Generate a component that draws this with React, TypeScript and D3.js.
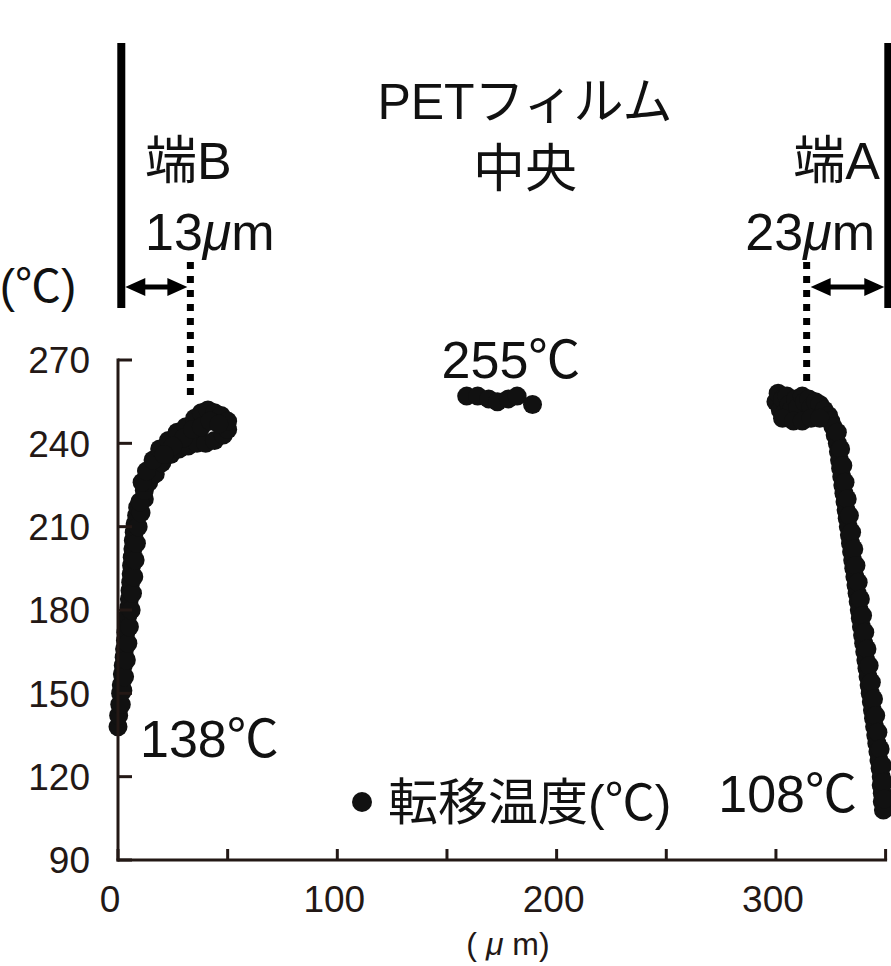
import React, { useEffect, useRef } from "react";
import * as d3 from "d3";

// 端B側 (左) の測定点 [位置 μm, 転移温度 ℃]
const edgeBPoints: [number, number][] = [
  [0, 138], [0.3, 142], [0.8, 146], [1.2, 150], [1.5, 153], [2, 157], [2.4, 160],
  [2.8, 163], [3, 166], [3.4, 169], [3.6, 172], [4, 175], [4.5, 178], [5, 181],
  [5.2, 184], [5.5, 187], [5.8, 190], [6, 193], [6.2, 196], [6.5, 199], [6.8, 202],
  [7, 205], [7.4, 208], [7.8, 211], [8.5, 214], [9, 217],
  [1.5, 146], [2.2, 151], [3, 156], [3.8, 162], [4.5, 168], [5.2, 174], [6, 180],
  [6.6, 186], [7.2, 192], [7.8, 198], [8.4, 204], [9.2, 210], [10.5, 215], [12, 220],
  [10, 219], [12, 223], [14, 226], [17, 229], [20, 233], [24, 236], [28, 238],
  [32, 239], [36, 240], [40, 240], [44, 241], [48, 243], [50, 245],
  [11, 226], [13, 230], [16, 234], [19, 238], [23, 241], [27, 244], [31, 246],
  [35, 249], [38, 251], [41, 252], [44, 251], [47, 250], [50, 248],
  [30, 242], [34, 245], [38, 246], [42, 248], [46, 247], [25, 239], [21, 236],
];

// 中央の測定点
const centerPoints: [number, number][] = [
  [159, 257], [164, 257], [169, 256], [173, 255], [178, 256], [182, 257], [189, 254],
];

// 端A側 (右) の測定点
const edgeAPoints: [number, number][] = [
  [300, 255], [301, 258], [302, 252], [303, 256], [304, 251], [305, 257], [306, 254],
  [307, 252], [309, 256], [310, 253], [312, 257], [313, 255], [315, 256], [316, 253],
  [318, 255], [320, 254], [322, 252], [324, 250], [325, 248], [326, 246], [327, 243],
  [303, 249], [308, 248], [312, 248], [316, 249], [320, 249],
  [328, 240], [328.5, 237], [329, 234], [329.5, 231], [330, 228], [330.5, 225],
  [331, 222], [331.5, 219], [332, 216], [332.5, 213], [333, 210], [333.5, 207],
  [334, 204], [334.5, 201], [335, 198], [335.5, 195], [336, 192], [336.5, 189],
  [337, 186], [337.5, 183], [338, 180], [338.5, 177], [339, 174], [339.5, 171],
  [340, 168], [340.5, 165], [341, 162], [341.5, 159], [342, 156], [342.5, 153],
  [343, 150], [343.5, 147], [344, 144], [344.5, 141], [345, 138], [345.5, 135],
  [346, 132], [346.5, 129], [347, 126], [347.5, 123], [348, 120], [348, 117],
  [348.5, 114], [348.5, 111], [349, 108],
  [328, 244], [329.5, 238], [330.5, 232], [331.5, 226], [332.5, 220], [333.5, 214],
  [334.5, 208], [335.5, 202], [336.5, 196], [337.5, 190], [338.5, 184],
  [339.5, 178], [340.5, 172], [341.5, 166], [342.5, 160], [343.5, 154],
  [344.5, 148], [345.5, 142], [346.5, 136], [347.5, 130], [348.5, 124],
  [349, 118], [349.5, 112],
];

const yTicks = [90, 120, 150, 180, 210, 240, 270];
const xTickMarks = [0, 50, 100, 150, 200, 250, 300, 350];
const xTickLabels = [0, 100, 200, 300];

// 注記の位置 (μm)
const edgeB = 1.5;
const dotB = 33;
const dotA = 314;
const edgeA = 351;

const FONT = "'Liberation Sans', 'Noto Sans CJK JP', sans-serif";
const AXIS = "#231815";
const DOT = "#111";

export default function App() {
  const ref = useRef<SVGSVGElement>(null);

  useEffect(() => {
    const node = ref.current;
    if (!node) return;
    const svg = d3.select(node);
    svg.selectAll("*").remove();

    const x = d3.scaleLinear().domain([0, 350]).range([118, 885.6]);
    const y = d3.scaleLinear().domain([90, 270]).range([860, 360]);

    const g = svg.append("g");

    // 測定点
    const all = [...edgeBPoints, ...centerPoints, ...edgeAPoints];
    g.selectAll("circle.pt")
      .data(all)
      .enter()
      .append("circle")
      .attr("class", "pt")
      .attr("cx", d => x(d[0]))
      .attr("cy", d => y(d[1]))
      .attr("r", 9.5)
      .attr("fill", DOT);

    // 軸
    g.append("line")
      .attr("x1", x(0)).attr("x2", x(0))
      .attr("y1", y(270) - 1.5).attr("y2", y(90) + 1.5)
      .attr("stroke", AXIS).attr("stroke-width", 3);
    g.append("line")
      .attr("x1", x(0) - 1.5).attr("x2", x(350) + 1.5)
      .attr("y1", y(90)).attr("y2", y(90))
      .attr("stroke", AXIS).attr("stroke-width", 3);

    g.selectAll("line.yt")
      .data(yTicks)
      .enter()
      .append("line")
      .attr("class", "yt")
      .attr("x1", x(0)).attr("x2", x(0) + 14)
      .attr("y1", d => y(d)).attr("y2", d => y(d))
      .attr("stroke", AXIS).attr("stroke-width", 3);

    g.selectAll("line.xt")
      .data(xTickMarks)
      .enter()
      .append("line")
      .attr("class", "xt")
      .attr("x1", d => x(d)).attr("x2", d => x(d))
      .attr("y1", y(90)).attr("y2", y(90) - 11)
      .attr("stroke", AXIS).attr("stroke-width", 3);

    g.selectAll("text.yl")
      .data(yTicks)
      .enter()
      .append("text")
      .attr("class", "yl")
      .attr("x", 90)
      .attr("y", d => y(d))
      .attr("dy", "0.36em")
      .attr("text-anchor", "end")
      .attr("font-family", FONT)
      .attr("font-size", 37)
      .attr("fill", AXIS)
      .text(d => d);

    g.selectAll("text.xl")
      .data(xTickLabels)
      .enter()
      .append("text")
      .attr("class", "xl")
      .attr("x", d => x(d) - (d === 0 ? 8 : 3))
      .attr("y", 912)
      .attr("text-anchor", "middle")
      .attr("font-family", FONT)
      .attr("font-size", 37)
      .attr("fill", AXIS)
      .text(d => d);

    const text = (tx: number, ty: number, s: string, size: number, anchor = "start") =>
      svg.append("text")
        .attr("x", tx).attr("y", ty)
        .attr("text-anchor", anchor)
        .attr("font-family", FONT)
        .attr("font-size", size)
        .attr("fill", "#111")
        .text(s);

    // 軸タイトル
    const um = svg.append("text")
      .attr("x", 508).attr("y", 955)
      .attr("text-anchor", "middle")
      .attr("font-family", FONT)
      .attr("font-size", 32)
      .attr("fill", AXIS);
    um.append("tspan").text("(");
    um.append("tspan").attr("font-style", "italic").text(" μ");
    um.append("tspan").text(" m)");
    text(38, 302, "(℃)", 46, "middle");

    // 端部の線と寸法
    const topY = 43, botY = 308, arrowY = 287;
    svg.append("line")
      .attr("x1", x(edgeB)).attr("x2", x(edgeB))
      .attr("y1", topY).attr("y2", botY)
      .attr("stroke", "#000").attr("stroke-width", 8);
    svg.append("line")
      .attr("x1", x(edgeA)).attr("x2", x(edgeA))
      .attr("y1", topY).attr("y2", botY)
      .attr("stroke", "#000").attr("stroke-width", 7);

    svg.append("line")
      .attr("x1", x(dotB)).attr("x2", x(dotB))
      .attr("y1", 262).attr("y2", y(257))
      .attr("stroke", "#000").attr("stroke-width", 7)
      .attr("stroke-dasharray", "7 7");
    svg.append("line")
      .attr("x1", x(dotA)).attr("x2", x(dotA))
      .attr("y1", 262).attr("y2", y(262))
      .attr("stroke", "#000").attr("stroke-width", 7)
      .attr("stroke-dasharray", "7 7");

    const arrow = (x1: number, x2: number) => {
      const hl = 20, hh = 9, sh = 2.5;
      const p = d3.path();
      p.moveTo(x1, arrowY);
      p.lineTo(x1 + hl, arrowY - hh);
      p.lineTo(x1 + hl, arrowY - sh);
      p.lineTo(x2 - hl, arrowY - sh);
      p.lineTo(x2 - hl, arrowY - hh);
      p.lineTo(x2, arrowY);
      p.lineTo(x2 - hl, arrowY + hh);
      p.lineTo(x2 - hl, arrowY + sh);
      p.lineTo(x1 + hl, arrowY + sh);
      p.lineTo(x1 + hl, arrowY + hh);
      p.closePath();
      svg.append("path").attr("d", p.toString()).attr("fill", "#000");
    };
    arrow(x(edgeB) + 4, x(dotB) - 3);
    arrow(x(dotA) + 4, x(edgeA) - 3.5);

    // 注記テキスト
    text(525, 119, "PETフィルム", 50, "middle");
    text(525, 187, "中央", 52, "middle");
    text(145, 179, "端B", 52);
    text(880, 179, "端A", 52, "end");

    const dim = (tx: number, anchor: string, num: string) => {
      const t = svg.append("text")
        .attr("x", tx).attr("y", 250)
        .attr("text-anchor", anchor)
        .attr("font-family", FONT)
        .attr("font-size", 52)
        .attr("fill", "#111");
      t.append("tspan").text(num);
      t.append("tspan").attr("font-style", "italic").text("μ");
      t.append("tspan").text("m");
    };
    dim(145, "start", "13");
    dim(875, "end", "23");

    text(511, 378, "255℃", 52, "middle");
    text(140, 757, "138℃", 52);
    text(857, 812, "108℃", 52, "end");

    // 凡例
    svg.append("circle").attr("cx", 362).attr("cy", 802).attr("r", 10).attr("fill", DOT);
    text(388, 820, "転移温度(℃)", 50);
  }, []);

  return (
    <svg
      ref={ref}
      width={891}
      height={966}
      style={{ position: "absolute", left: 0, top: 0, background: "#fff" }}
    />
  );
}
